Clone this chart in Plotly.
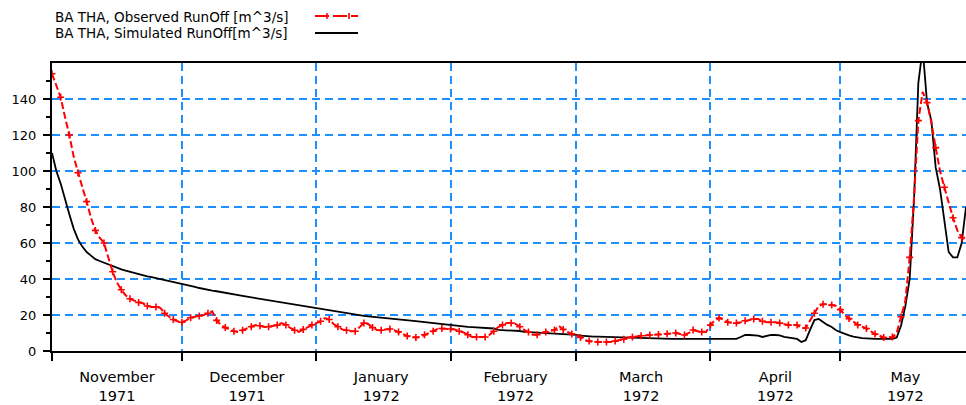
import pandas as pd
import plotly.graph_objects as go

start_date = "1971-11-01"

observed = [
    154, 147, 141, 130, 120, 108, 99, 91, 83, 74,
    67, 63, 60, 52, 44, 38, 34, 31, 29, 28,
    27, 26.5, 25, 24.5, 24.5, 24, 21, 19, 17.5, 16.5,
    16, 17, 18.5, 19, 19.5, 20, 21, 22, 17, 14.5,
    13, 12, 11, 10.6, 11.5, 12.8, 13.5, 14.4, 14, 13.3,
    13.5, 14, 14.4, 15.5, 14.5, 12.8, 11.5, 10.6, 12, 13.3,
    14.5, 15.5, 16.5, 18.3, 17.5, 15, 13.5, 12, 11.5, 11,
    11, 13, 15.5, 15, 13, 11.7, 11.5, 12, 12.2, 11.5,
    10.6, 9.5, 8.3, 8, 7.5, 7.8, 9, 10, 11, 12.2,
    12.5, 12.2, 12.2, 12, 11, 10.3, 9, 7.8, 7.8, 7.8,
    7.8, 9, 11, 13.3, 14.5, 15.5, 15.5, 15, 13.5, 11.7,
    10.5, 9, 9, 10, 10.5, 11, 11.7, 14, 12, 10.6,
    9.5, 8.9, 7.5, 6.1, 5.5, 5, 5, 5, 5, 5,
    5.5, 6, 6.5, 7.5, 7.8, 8, 8.5, 8.9, 8.9, 9,
    9.2, 9.4, 9.6, 10, 10, 9.5, 8.9, 10, 11.7, 11,
    10.6, 10.6, 14.4, 17, 18.3, 17.5, 16, 15.8, 15.5, 16,
    16.8, 17.2, 17.8, 17.8, 16.5, 16, 16, 16, 15.5, 15,
    14.4, 14.4, 14.4, 12.8, 12.8, 17, 21, 25, 26, 26,
    25.5, 25, 23, 20, 18, 16, 14.5, 13.5, 12.5, 11,
    9.4, 8.5, 7.5, 7.2, 7.8, 10, 19, 28, 52, 85,
    128, 144, 138, 127, 113, 100, 91, 82, 74, 67,
    63, 62,
]

simulated = [
    110, 100, 93, 84, 76, 68, 62, 58, 55, 53,
    51, 50, 49, 48, 47, 46, 45.3, 44.7, 44, 43.3,
    42.7, 42.2, 41.5, 41, 40.5, 40, 39.4, 38.8, 38.2, 37.7,
    37.2, 36.7, 36.2, 35.6, 35, 34.4, 34.0, 33.6, 33.2, 32.7,
    32.3, 31.9, 31.5, 31.0, 30.6, 30.2, 29.8, 29.4, 28.9, 28.5,
    28.1, 27.7, 27.3, 26.8, 26.4, 26.0, 25.6, 25.2, 24.7, 24.3,
    23.9, 23.5, 23.1, 22.7, 22.3, 21.9, 21.5, 21.1, 20.7, 20.3,
    20.0, 19.7, 19.5, 19.2, 19.0, 18.8, 18.5, 18.3, 18.0, 17.8,
    17.6, 17.4, 17.2, 16.9, 16.6, 16.3, 16.0, 15.7, 15.4, 15.1,
    14.8, 14.5, 14.2, 14.0, 13.8, 13.6, 13.4, 13.3, 13.2, 13.1,
    13.0, 12.8, 12.5, 11.7, 11.6, 11.5, 11.4, 11.3, 11.1, 10.6,
    10.5, 10.4, 10.3, 10.2, 10.1, 10.0, 9.9, 9.8, 9.7, 9.6,
    9.4, 9.0, 8.5, 8.2, 8.1, 8.0, 8.0, 7.9, 7.9, 7.9,
    7.8, 7.8, 7.5, 7.4, 7.3, 7.2, 7.2, 7.1, 7.0, 7.0,
    6.9, 6.7, 6.7, 6.7, 6.7, 6.7, 6.7, 6.7, 6.7, 6.7,
    6.7, 6.7, 6.7, 6.7, 6.7, 6.7, 6.7, 6.7, 6.7, 7.8,
    8.9, 8.9, 8.9, 8.5, 7.8, 8.3, 8.9, 8.9, 8.7, 7.8,
    7.5, 7.0, 6.7, 5.0, 6.0, 11.7, 17.2, 17.8, 16.0, 14.5,
    13.3, 11.5, 10.5, 9.5, 8.7, 8.0, 7.5, 7.2, 7.0, 6.7,
    6.7, 6.7, 6.7, 6.7, 6.7, 7.5, 14, 25, 40, 84,
    149, 168, 138, 128, 102, 90, 72, 55, 52, 52,
    60, 80,
]

month_starts = ["1971-11-01", "1971-12-01", "1972-01-01", "1972-02-01",
                "1972-03-01", "1972-04-01", "1972-05-01"]
month_mids = ["1971-11-16", "1971-12-16", "1972-01-16", "1972-02-16",
              "1972-03-16", "1972-04-16", "1972-05-16"]
month_labels = ["November<br>1971", "December<br>1971", "January<br>1972",
                "February<br>1972", "March<br>1972", "April<br>1972",
                "May<br>1972"]

y_ticks = [0, 20, 40, 60, 80, 100, 120, 140]
y_minor = [10, 30, 50, 70, 90, 110, 130, 150]

legend_obs = "BA THA, Observed RunOff [m^3/s]"
legend_sim = "BA THA, Simulated RunOff[m^3/s]"

dates_obs = pd.date_range(start_date, periods=len(observed), freq="D")
dates_sim = pd.date_range(start_date, periods=len(simulated), freq="D")

RED = "#ff0000"
GRID = "#1e8fff"
FONT = "DejaVu Sans"

fig = go.Figure()
fig.add_trace(go.Scatter(
    x=dates_sim, y=simulated, mode="lines",
    line=dict(color="black", width=1.8), showlegend=False,
))
fig.add_trace(go.Scatter(
    x=dates_obs, y=observed, mode="lines",
    line=dict(color=RED, width=2, dash="7px,3px"), showlegend=False,
))
fig.add_trace(go.Scatter(
    x=dates_obs[::2], y=observed[::2], mode="markers",
    marker=dict(symbol="cross-thin", size=5, line=dict(color=RED, width=1.6)),
    showlegend=False,
))

W, H = 966, 405
L, R, T, B = 52, 0, 63, 54
pw, ph = W - L - R, H - T - B

def px(xp):
    return (xp - L) / pw

def py(yp):
    return (H - B - yp) / ph

shapes = []
# legend samples
shapes.append(dict(type="line", xref="paper", yref="paper",
                   x0=px(315), x1=px(358), y0=py(16), y1=py(16),
                   line=dict(color=RED, width=2, dash="14px,4px")))
for mx in (327, 349):
    shapes.append(dict(type="line", xref="paper", yref="paper",
                       x0=px(mx), x1=px(mx), y0=py(13), y1=py(19),
                       line=dict(color=RED, width=1.6)))
shapes.append(dict(type="line", xref="paper", yref="paper",
                   x0=px(315), x1=px(358), y0=py(33), y1=py(33),
                   line=dict(color="black", width=2)))

annotations = [
    dict(text=legend_obs, xref="paper", yref="paper", x=px(53), y=py(17),
         xanchor="left", yanchor="middle", showarrow=False,
         font=dict(family=FONT, size=13.5, color="black")),
    dict(text=legend_sim, xref="paper", yref="paper", x=px(53), y=py(33),
         xanchor="left", yanchor="middle", showarrow=False,
         font=dict(family=FONT, size=13.5, color="black")),
]

fig.update_layout(
    width=W, height=H,
    margin=dict(l=L, r=R, t=T, b=B, pad=0),
    paper_bgcolor="white", plot_bgcolor="white",
    showlegend=False,
    shapes=shapes, annotations=annotations,
    xaxis=dict(
        type="date",
        range=["1971-11-01", "1972-05-30 00:00"],
        tickmode="array", tickvals=month_mids, ticktext=month_labels,
        ticks="", showgrid=False, zeroline=False,
        showline=True, linecolor="black", linewidth=2, mirror=True,
        tickfont=dict(family=FONT, size=14.5, color="black"),
        ticklabelstandoff=12,
        minor=dict(tickmode="array", tickvals=month_starts,
                   ticks="outside", ticklen=8, tickwidth=2, tickcolor="black",
                   showgrid=True, gridcolor=GRID, gridwidth=2, griddash="8px,5px"),
    ),
    yaxis=dict(
        range=[0, 160],
        tickmode="array", tickvals=y_ticks,
        ticks="outside", ticklen=7, tickwidth=2, tickcolor="black",
        showgrid=True, gridcolor=GRID, gridwidth=2, griddash="8px,5px",
        zeroline=False, showline=True, linecolor="black", linewidth=2,
        tickfont=dict(family=FONT, size=13, color="black"),
        ticklabelstandoff=4,
        minor=dict(tickmode="array", tickvals=y_minor,
                   ticks="outside", ticklen=4, tickwidth=2, tickcolor="black",
                   showgrid=False),
    ),
)

fig.write_html("out.html")
